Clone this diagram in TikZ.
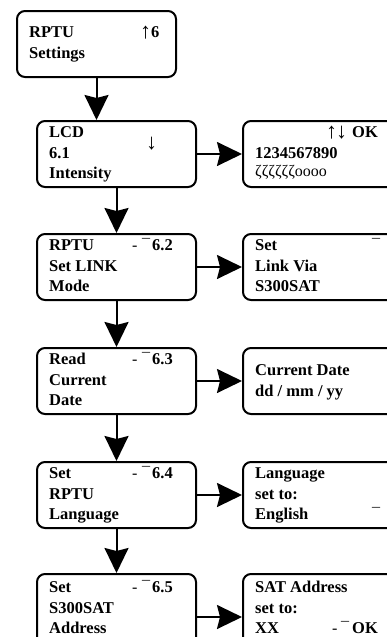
\documentclass[tikz,border=0pt]{standalone}
\usepackage{fontspec}
\setmainfont{Liberation Serif}
\usetikzlibrary{arrows.meta}
\begin{document}
\begin{tikzpicture}[x=1pt,y=-1pt,
  box/.style={draw, line width=2pt, rounded corners=8pt, minimum width=159pt, minimum height=66pt, inner sep=0pt, anchor=north west},
  txt/.style={anchor=base west, inner sep=0pt, font=\bfseries\fontsize{16.5}{19}\selectfont},
  sym/.style={anchor=base west, inner sep=0pt, font=\fontsize{16}{19}\selectfont},
  arw/.style={anchor=base west, inner sep=0pt, font=\fontsize{22}{24}\selectfont},
  arr/.style={line width=2pt, -{Stealth[length=25pt,width=24pt,inset=3pt]}}]
\useasboundingbox (0,0) rectangle (387,637);
% boxes
\node[box] (n0) at (16,10) {};
\node[box] (n1) at (36,120) {};
\node[box] (n1r) at (242,120) {};
\node[box] (n2) at (36,233) {};
\node[box] (n2r) at (242,233) {};
\node[box] (n3) at (36,347) {};
\node[box] (n3r) at (242,347) {};
\node[box] (n4) at (36,461) {};
\node[box] (n4r) at (242,461) {};
\node[box, minimum height=84pt] (n5) at (36,573) {};
\node[box, minimum height=84pt] (n5r) at (242,573) {};
% top box text
\node[txt] (t0a) at (29,37) {RPTU};
\node[txt] (t0b) at (29,58) {Settings};
\node[arw] (t0c) at (140,38) {↑};
\node[txt] (t0d) at (151,37) {6};
% LCD
\node[txt] (t1a) at (49,137) {LCD};
\node[txt] (t1b) at (49,158) {6.1};
\node[txt] (t1c) at (49,178) {Intensity};
\node[arw] (t1d) at (146,149) {↓};
\node[arw] (t1e) at (326,138) {↑\kern-1pt↓};
\node[txt] (t1f) at (352,137) {OK};
\node[txt] (t1g) at (255,158) {1234567890};
\node[sym] (t1h) at (255,176) {ζζζζζζoooo};
% 6.2
\node[txt] (t2a) at (49,250) {RPTU};
\node[txt] (t2b) at (49,271) {Set LINK};
\node[txt] (t2c) at (49,291) {Mode};
\node[sym] (t2d) at (132,250) {-};
\node[sym] (t2e) at (142,250) {¯};
\node[txt] (t2f) at (152,250) {6.2};
\node[txt] (t2g) at (255,250) {Set};
\node[txt] (t2h) at (255,271) {Link Via};
\node[txt] (t2i) at (255,291) {S300SAT};
\node[sym] (t2j) at (372,250) {¯};
% 6.3
\node[txt] (t3a) at (49,364) {Read};
\node[txt] (t3b) at (49,385) {Current};
\node[txt] (t3c) at (49,405) {Date};
\node[sym] (t3d) at (132,364) {-};
\node[sym] (t3e) at (142,364) {¯};
\node[txt] (t3f) at (152,364) {6.3};
\node[txt] (t3g) at (255,375) {Current Date};
\node[txt] (t3h) at (255,396) {dd / mm / yy};
% 6.4
\node[txt] (t4a) at (49,478) {Set};
\node[txt] (t4b) at (49,499) {RPTU};
\node[txt] (t4c) at (49,519) {Language};
\node[sym] (t4d) at (132,478) {-};
\node[sym] (t4e) at (142,478) {¯};
\node[txt] (t4f) at (152,478) {6.4};
\node[txt] (t4g) at (255,478) {Language};
\node[txt] (t4h) at (255,499) {set to:};
\node[txt] (t4i) at (255,519) {English};
\node[sym] (t4j) at (372,519) {¯};
% 6.5
\node[txt] (t5a) at (49,592) {Set};
\node[txt] (t5b) at (49,613) {S300SAT};
\node[txt] (t5c) at (49,633) {Address};
\node[sym] (t5d) at (132,592) {-};
\node[sym] (t5e) at (142,592) {¯};
\node[txt] (t5f) at (152,592) {6.5};
\node[txt] (t5g) at (255,592) {SAT Address};
\node[txt] (t5h) at (255,613) {set to:};
\node[txt] (t5i) at (255,633) {XX};
\node[sym] (t5j) at (332,633) {-};
\node[sym] (t5k) at (341,633) {¯};
\node[txt] (t5l) at (352,633) {OK};
% arrows
\draw[arr] (n0.south) -- (n0.south |- n1.north);
\draw[arr] (n1.south) -- (n2.north);
\draw[arr] (n2.south) -- (n3.north);
\draw[arr] (n3.south) -- (n4.north);
\draw[arr] (n4.south) -- (n5.north);
\draw[arr] (n1.east) -- (n1r.west);
\draw[arr] (n2.east) -- (n2r.west);
\draw[arr] (n3.east) -- (n3r.west);
\draw[arr] (n4.east) -- (n4r.west);
\draw[arr] ([yshift=-44pt]n5.north east) -- ([yshift=-44pt]n5r.north west);
\end{tikzpicture}
\end{document}
